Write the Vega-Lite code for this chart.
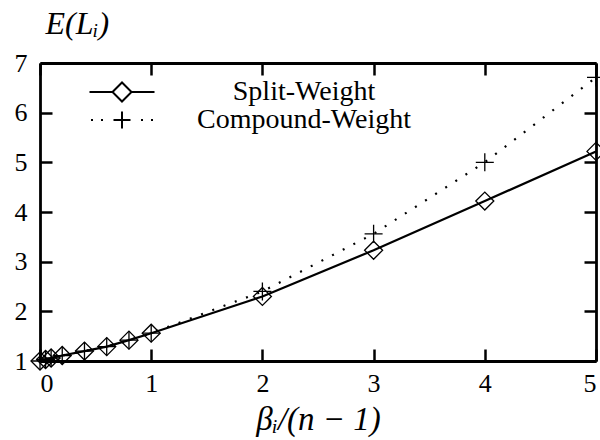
{
  "$schema": "https://vega.github.io/schema/vega-lite/v6.json",
  "width": 556,
  "height": 298,
  "autosize": {"type": "none"},
  "padding": {"left": 40, "top": 63, "right": 4, "bottom": 79},
  "background": "white",
  "config": {
    "view": {"stroke": null},
    "font": "Liberation Serif",
    "axis": {
      "domainColor": "black", "domainWidth": 2.8, "tickColor": "black", "tickWidth": 2.5, "tickSize": -12,
      "grid": false, "labelFont": "Liberation Serif", "labelFontSize": 26, "labelColor": "black",
      "titleFont": "Liberation Serif", "titleFontSize": 33, "titleColor": "black", "titleFontWeight": "normal"
    }
  },
  "data": {
    "values": [
      {"series": "Split-Weight", "x": 0, "y": 1.0},
      {"series": "Split-Weight", "x": 0.05, "y": 1.03},
      {"series": "Split-Weight", "x": 0.1, "y": 1.06},
      {"series": "Split-Weight", "x": 0.2, "y": 1.11},
      {"series": "Split-Weight", "x": 0.4, "y": 1.2},
      {"series": "Split-Weight", "x": 0.6, "y": 1.29},
      {"series": "Split-Weight", "x": 0.8, "y": 1.42},
      {"series": "Split-Weight", "x": 1, "y": 1.56},
      {"series": "Split-Weight", "x": 2, "y": 2.3},
      {"series": "Split-Weight", "x": 3, "y": 3.23},
      {"series": "Split-Weight", "x": 4, "y": 4.22},
      {"series": "Split-Weight", "x": 5, "y": 5.22},
      {"series": "Compound-Weight", "x": 0, "y": 1.0},
      {"series": "Compound-Weight", "x": 0.05, "y": 1.03},
      {"series": "Compound-Weight", "x": 0.1, "y": 1.06},
      {"series": "Compound-Weight", "x": 0.2, "y": 1.11},
      {"series": "Compound-Weight", "x": 0.4, "y": 1.2},
      {"series": "Compound-Weight", "x": 0.6, "y": 1.29},
      {"series": "Compound-Weight", "x": 0.8, "y": 1.42},
      {"series": "Compound-Weight", "x": 1, "y": 1.56},
      {"series": "Compound-Weight", "x": 2, "y": 2.4},
      {"series": "Compound-Weight", "x": 3, "y": 3.56},
      {"series": "Compound-Weight", "x": 4, "y": 5.0},
      {"series": "Compound-Weight", "x": 5, "y": 6.71}
    ]
  },
  "layer": [
    {
      "transform": [{"filter": "datum.series === 'Split-Weight'"}],
      "mark": {"type": "line", "color": "black", "strokeWidth": 2.2, "strokeCap": "butt"},
      "encoding": {
        "x": {"field": "x", "type": "quantitative", "scale": {"domain": [0, 5], "nice": false, "zero": false},
          "axis": {"orient": "bottom", "values": [0, 1, 2, 3, 4, 5], "format": "d", "title": "βᵢ/(n − 1)",
            "titleFontStyle": "italic", "labelPadding": 21, "titlePadding": 7}},
        "y": {"field": "y", "type": "quantitative", "scale": {"domain": [1, 7], "nice": false, "zero": false},
          "axis": {"orient": "left", "values": [1, 2, 3, 4, 5, 6, 7], "format": "d", "title": "E(Lᵢ)",
            "titleAngle": 0, "titleAlign": "left", "titleBaseline": "alphabetic", "titleX": 5, "titleY": -30,
            "titleFontSize": 32, "titleFontStyle": "italic", "labelPadding": 25}}
      }
    },
    {
      "transform": [{"filter": "datum.series === 'Compound-Weight'"}],
      "mark": {"type": "line", "color": "black", "strokeWidth": 2.2, "strokeCap": "butt", "strokeDash": [2, 10]},
      "encoding": {
        "x": {"field": "x", "type": "quantitative", "axis": null},
        "y": {"field": "y", "type": "quantitative", "axis": null}
      }
    },
    {
      "transform": [{"filter": "datum.series === 'Split-Weight'"}],
      "mark": {"type": "point", "shape": "M-1,0L0,-1L1,0L0,1Z", "filled": false, "color": "black", "strokeWidth": 1.3, "size": 324, "opacity": 1},
      "encoding": {
        "x": {"field": "x", "type": "quantitative",
          "axis": {"orient": "top", "values": [0, 1, 2, 3, 4, 5], "labels": false, "title": null}},
        "y": {"field": "y", "type": "quantitative",
          "axis": {"orient": "right", "values": [1, 2, 3, 4, 5, 6, 7], "labels": false, "title": null}}
      }
    },
    {
      "transform": [{"filter": "datum.series === 'Compound-Weight'"}],
      "mark": {"type": "point", "shape": "M-1,0L1,0M0,-1L0,1", "filled": false, "color": "black", "strokeWidth": 1.3, "size": 324, "opacity": 1},
      "encoding": {
        "x": {"field": "x", "type": "quantitative", "axis": null},
        "y": {"field": "y", "type": "quantitative", "axis": null}
      }
    },
    {
      "transform": [{"filter": "false"}],
      "mark": {"type": "point", "filled": false, "color": "black", "strokeWidth": 2, "opacity": 1},
      "encoding": {
        "shape": {"field": "series", "type": "nominal",
          "scale": {"domain": ["Split-Weight", "Compound-Weight"],
            "range": ["M-6.5,0L-1.9,0M1.9,0L6.5,0M-1.9,0L0,-1.9L1.9,0L0,1.9Z", "M-6.2,0L-5.8,0M-4.2,0L-3.8,0M3.8,0L4.2,0M5.8,0L6.2,0M-1.7,0L1.7,0M0,-1.7L0,1.7"]},
          "legend": {
            "orient": "none", "legendX": 68, "legendY": 15, "padding": 0, "title": null,
            "symbolSize": 100, "symbolStrokeWidth": 2, "symbolStrokeColor": "black", "symbolFillColor": "white",
            "labelFont": "Liberation Serif", "labelFontSize": 28, "labelColor": "black", "labelAlign": "center",
            "labelOffset": 168, "labelLimit": 400, "rowPadding": -10
          }}
      }
    }
  ],
  "resolve": {"axis": {"x": "independent", "y": "independent"}}
}
